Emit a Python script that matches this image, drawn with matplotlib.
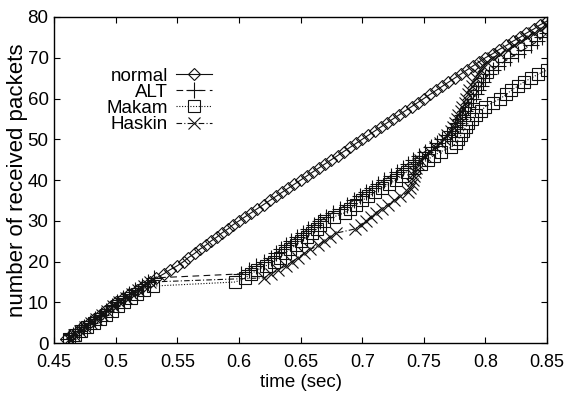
import matplotlib
matplotlib.use("Agg")
import matplotlib.pyplot as plt
import numpy as np

plt.rcParams['font.family'] = ['Liberation Sans', 'DejaVu Sans']

# arrival time (sec) of each received packet
normal_t = [0.460, 0.464, 0.469, 0.473, 0.478, 0.482, 0.487, 0.491, 0.496, 0.500,
            0.506, 0.511, 0.517, 0.522, 0.528, 0.533, 0.539, 0.544, 0.550, 0.555,
            0.559, 0.564, 0.568, 0.573, 0.577, 0.582, 0.586, 0.591, 0.595, 0.600,
            0.605, 0.610, 0.615, 0.620, 0.625, 0.630, 0.635, 0.640, 0.645, 0.650,
            0.655, 0.660, 0.665, 0.670, 0.675, 0.680, 0.685, 0.690, 0.695, 0.700,
            0.705, 0.710, 0.715, 0.720, 0.725, 0.730, 0.735, 0.740, 0.745, 0.750,
            0.755, 0.760, 0.765, 0.770, 0.775, 0.780, 0.785, 0.790, 0.795, 0.800,
            0.806, 0.811, 0.817, 0.822, 0.828, 0.833, 0.839, 0.844, 0.850]
normal_n = [1, 2, 3, 4, 5, 6, 7, 8, 9, 10, 11, 12, 13, 14, 15, 16, 17, 18, 19, 20,
            21, 22, 23, 24, 25, 26, 27, 28, 29, 30, 31, 32, 33, 34, 35, 36, 37, 38, 39, 40,
            41, 42, 43, 44, 45, 46, 47, 48, 49, 50, 51, 52, 53, 54, 55, 56, 57, 58, 59, 60,
            61, 62, 63, 64, 65, 66, 67, 68, 69, 70, 71, 72, 73, 74, 75, 76, 77, 78, 79]

alt_t = [0.461, 0.465, 0.470, 0.474, 0.479, 0.483, 0.488, 0.492, 0.497, 0.501,
         0.506, 0.511, 0.516, 0.521, 0.526, 0.531, 0.602, 0.608, 0.614, 0.620,
         0.626, 0.630, 0.634, 0.638, 0.642, 0.647, 0.652, 0.656, 0.661, 0.666,
         0.671, 0.676, 0.682, 0.688, 0.693, 0.698, 0.703, 0.708, 0.713, 0.718,
         0.723, 0.728, 0.733, 0.737, 0.741, 0.746, 0.751, 0.756, 0.761, 0.765,
         0.769, 0.772, 0.775, 0.777, 0.779, 0.781, 0.783, 0.786, 0.788, 0.790,
         0.792, 0.794, 0.796, 0.798, 0.800, 0.803, 0.806, 0.810, 0.815, 0.820,
         0.826, 0.831, 0.837, 0.842, 0.846, 0.850]
alt_n = [1, 2, 3, 4, 5, 6, 7, 8, 9, 10, 11, 12, 13, 14, 15, 16, 17, 18, 19, 20,
         21, 22, 23, 24, 25, 26, 27, 28, 29, 30, 31, 32, 33, 34, 35, 36, 37, 38, 39, 40,
         41, 42, 43, 44, 45, 46, 47, 48, 49, 50, 51, 52, 53, 54, 55, 56, 57, 58, 59, 60,
         61, 62, 63, 64, 65, 66, 67, 68, 69, 70, 71, 72, 73, 74, 75, 76]

makam_t = [0.462, 0.467, 0.472, 0.477, 0.482, 0.487, 0.492, 0.497, 0.502, 0.507,
           0.512, 0.517, 0.523, 0.530, 0.597, 0.605, 0.610, 0.615, 0.622, 0.628,
           0.633, 0.637, 0.641, 0.646, 0.650, 0.655, 0.659, 0.663, 0.666, 0.669,
           0.677, 0.686, 0.690, 0.695, 0.700, 0.705, 0.710, 0.716, 0.722, 0.727,
           0.732, 0.736, 0.742, 0.748, 0.753, 0.758, 0.764, 0.772, 0.776, 0.778,
           0.780, 0.782, 0.784, 0.786, 0.789, 0.792, 0.796, 0.800, 0.806, 0.812,
           0.817, 0.821, 0.826, 0.831, 0.837, 0.843, 0.850]
makam_n = [1, 2, 3, 4, 5, 6, 7, 8, 9, 10, 11, 12, 13, 14, 15, 16, 17, 18, 19, 20,
           21, 22, 23, 24, 25, 26, 27, 28, 29, 30, 31, 32, 33, 34, 35, 36, 37, 38, 39, 40,
           41, 42, 43, 44, 45, 46, 47, 48, 49, 50, 51, 52, 53, 54, 55, 56, 57, 58, 59, 60,
           61, 62, 63, 64, 65, 66, 67]

haskin_t = [0.462, 0.466, 0.471, 0.475, 0.480, 0.484, 0.489, 0.493, 0.498, 0.503,
            0.508, 0.513, 0.518, 0.523, 0.528, 0.620, 0.626, 0.632, 0.638, 0.643,
            0.648, 0.653, 0.658, 0.664, 0.669, 0.674, 0.679, 0.694, 0.699, 0.703,
            0.707, 0.711, 0.716, 0.721, 0.726, 0.731, 0.737, 0.739, 0.740, 0.741,
            0.742, 0.743, 0.744, 0.745, 0.747, 0.751, 0.755, 0.759, 0.763, 0.766,
            0.769, 0.772, 0.774, 0.775, 0.777, 0.778, 0.780, 0.781, 0.783, 0.784,
            0.786, 0.787, 0.789, 0.790, 0.792, 0.794, 0.796, 0.798, 0.801, 0.806,
            0.812, 0.818, 0.823, 0.829, 0.834, 0.839, 0.844, 0.850]
haskin_n = [1, 2, 3, 4, 5, 6, 7, 8, 9, 10, 11, 12, 13, 14, 15, 16, 17, 18, 19, 20,
            21, 22, 23, 24, 25, 26, 27, 28, 29, 30, 31, 32, 33, 34, 35, 36, 37, 38, 39, 40,
            41, 42, 43, 44, 45, 46, 47, 48, 49, 50, 51, 52, 53, 54, 55, 56, 57, 58, 59, 60,
            61, 62, 63, 64, 65, 66, 67, 68, 69, 70, 71, 72, 73, 74, 75, 76, 77, 78]

x_ticks = [0.45, 0.5, 0.55, 0.6, 0.65, 0.7, 0.75, 0.8, 0.85]
x_ticklabels = ['0.45', '0.5', '0.55', '0.6', '0.65', '0.7', '0.75', '0.8', '0.85']
y_ticks = [0, 10, 20, 30, 40, 50, 60, 70, 80]

fig = plt.figure(figsize=(5.64, 3.94), dpi=100)
ax = fig.add_axes([0.096, 0.129, 0.874, 0.828])

ink = '#111111'
lw = 0.8
ax.plot(normal_t, normal_n, color=ink, lw=lw, ls='-', marker='D', ms=6.5,
        mfc='none', mew=0.8, label='normal')
ax.plot(alt_t, alt_n, color=ink, lw=lw, ls=(0, (6, 4)), marker='+', ms=11,
        mew=0.8, label='ALT')
ax.plot(makam_t, makam_n, color=ink, lw=lw, ls=(0, (1, 1.5)), marker='s', ms=8,
        mfc='none', mew=0.8, label='Makam')
ax.plot(haskin_t, haskin_n, color=ink, lw=lw, ls=(0, (5, 2, 1, 2)), marker='x', ms=8,
        mew=0.8, label='Haskin')

ax.set_xlim(0.45, 0.85)
ax.set_ylim(0, 80)
ax.set_xticks(x_ticks)
ax.set_xticklabels(x_ticklabels)
ax.set_yticks(y_ticks)
ax.tick_params(direction='in', top=True, right=True, length=4, width=0.8,
               labelsize=13.5, colors='black')
ax.tick_params(axis='x', pad=8, labelsize=13)
ax.tick_params(axis='y', pad=4)
for sp in ax.spines.values():
    sp.set_linewidth(1.0)

ax.set_xlabel('time (sec)', fontsize=13.5, labelpad=2)
ax.set_ylabel('number of received packets', fontsize=16, labelpad=0)

leg = ax.legend(loc='upper right', bbox_to_anchor=(0.32, 0.845), frameon=False,
                markerfirst=False, fontsize=13.5, handlelength=1.9,
                handletextpad=0.45, labelspacing=-0.05, borderpad=0, borderaxespad=0)

fig.savefig('out.png', dpi=100)
